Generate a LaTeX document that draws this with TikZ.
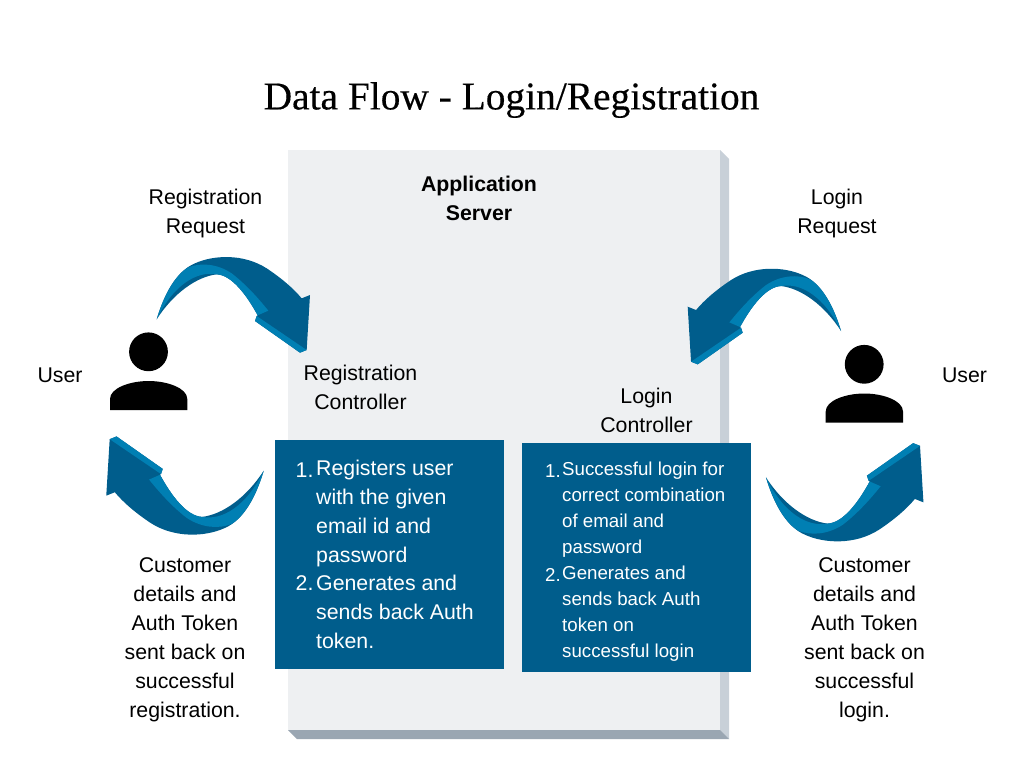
\documentclass[tikz,border=0pt]{standalone}
\usepackage{fontspec}
\setmainfont{Liberation Sans}
\newfontfamily\titlefont[FakeBold=0.35]{Liberation Serif}
\definecolor{deepblue}{HTML}{005D8C}
\definecolor{lightblue}{HTML}{007FB3}
\definecolor{panel}{HTML}{EEF0F2}
\definecolor{panelside}{HTML}{C8D0D8}
\definecolor{panelbase}{HTML}{9AA6B2}
\tikzset{
  label/.style={inner sep=0pt,align=center,text=black,font=\fontsize{21.3}{29}\selectfont},
  boldlabel/.style={label,font=\fontsize{21.3}{29}\selectfont\bfseries},
  listbig/.style={inner sep=0pt,align=left,text=white,font=\fontsize{21.3}{29}\selectfont},
  listsmall/.style={inner sep=0pt,align=left,text=white,font=\fontsize{18.7}{26}\selectfont},
  bluebox/.style={fill=deepblue,draw=none,minimum width=229pt,minimum height=229pt,inner sep=0pt,anchor=north west},
}
\newcommand{\bluearrow}{%
  \begin{scope}[shift={(100,240)},scale=0.33333]
    \fill[deepblue] (170,238) .. controls (190,170) and (225,95) .. (285,70) .. controls (340,45) and (430,40) .. (500,85) .. controls (545,115) and (580,145) .. (605,175) -- (630,165) -- (620,330) -- (600,338) -- (465,243) -- (470,228) -- (505,212) -- (473,226) .. controls (440,165) and (395,105) .. (350,103) .. controls (290,110) and (220,160) .. cycle;
    \fill[lightblue] (170,238) .. controls (190,170) and (225,105) .. (265,82) .. controls (300,68) and (350,70) .. (395,100) .. controls (440,135) and (475,175) .. (505,212) -- (473,226) .. controls (440,165) and (395,105) .. (350,103) .. controls (290,92) and (220,135) .. cycle;
    \fill[lightblue] (470,228) -- (620,330) -- (600,338) -- (465,243) -- cycle;
  \end{scope}}
\newcommand{\personicon}{%
  \fill[black] (148.5,351.8) circle (19.4);
  \fill[black] (110,410) -- (110,399) .. controls (110,388) and (130,381) .. (148.7,381) .. controls (167,381) and (187.3,388) .. (187.3,399) -- (187.3,410) -- cycle;}
\begin{document}
\begin{tikzpicture}[x=1pt,y=-1pt]
\useasboundingbox (0,0) rectangle (1024,768);
\fill[white] (0,0) rectangle (1024,768);
% server panel
\fill[panel] (288,150) rectangle (720,730);
\fill[panelside] (720,150) -- (729,159) -- (729,739) -- (720,730) -- cycle;
\fill[panelbase] (288,730) -- (720,730) -- (729,739) -- (297,739) -- cycle;
% title
\node[inner sep=0pt,font=\titlefont\fontsize{39.4}{42}\selectfont] (title) at (511.5,100) {Data Flow - Login/Registration};
% boxes
\node[bluebox] (regbox) at (275,440) {};
\node[bluebox] (logbox) at (522,443) {};
% labels
\node[label] (regreq) at (205.5,213) {Registration\\Request};
\node[boldlabel] (appserver) at (479,198.5) {Application\\Server};
\node[label] (logreq) at (837,213) {Login\\Request};
\node[label] (regctl) at (360.5,387.5) {Registration\\Controller};
\node[label] (logctl) at (646.5,410.5) {Login\\Controller};
\node[label] (userl) at (60,375) {User};
\node[label] (userr) at (964.5,375) {User};
\node[label] (backl) at (185,639.5) {Customer\\details and\\Auth Token\\sent back on\\successful\\registration.};
\node[label] (backr) at (864.5,639.5) {Customer\\details and\\Auth Token\\sent back on\\successful\\login.};
% left list
\node[listbig,anchor=west] (l1n) at (295.5,470) {1.};
\node[listbig,anchor=west] (l1t) at (316,513.5) {Registers user\\with the given\\email id and\\password};
\node[listbig,anchor=west] (l2n) at (295.5,583.5) {2.};
\node[listbig,anchor=west] (l2t) at (316,612) {Generates and\\sends back Auth\\token.};
% right list
\node[listsmall,anchor=west] (r1n) at (545,471) {1.};
\node[listsmall,anchor=west] (r1t) at (562,510) {Successful login for\\correct combination\\of email and\\password};
\node[listsmall,anchor=west] (r2n) at (545,575) {2.};
\node[listsmall,anchor=west] (r2t) at (562,614) {Generates and\\sends back Auth\\token on\\successful login};
% people
\personicon
\begin{scope}[shift={(715.7,12.5)}]\personicon\end{scope}
% arrows
\bluearrow
\begin{scope}[shift={(997.7,11.7)},xscale=-1]\bluearrow\end{scope}
\begin{scope}[shift={(263.7,470.7)},rotate=180,scale=1.027,shift={(-156.7,-319.3)}]\bluearrow\end{scope}
\begin{scope}[shift={(1029.7,6.7)},xscale=-1]
  \begin{scope}[shift={(263.7,470.7)},rotate=180,scale=1.027,shift={(-156.7,-319.3)}]\bluearrow\end{scope}
\end{scope}
\end{tikzpicture}
\end{document}
